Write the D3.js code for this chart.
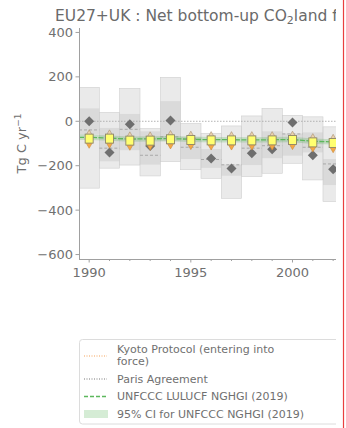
<!DOCTYPE html>
<html><head><meta charset="utf-8">
<script src="https://cdn.jsdelivr.net/npm/d3@7"></script>
<style>body{margin:0;background:#fff}svg{display:block;font-family:"DejaVu Sans",sans-serif}</style>
</head><body>
<script>
const years      = [1990,1991,1992,1993,1994,1995,1996,1997,1998,1999,2000,2001,2002];
const outerMax   = [153, 40, 148, -33, 198, -9, -54, -21, 24, 58, 27, 20, -25];
const outerMin   = [-301,-211,-197,-246,-182,-218,-257,-347,-249,-234,-189,-264,-362];
const innerMax   = [58, -30, 33, -45, 91, -70, -125, -195, -90, -45, -55, -50, -170];
const innerMin   = [-60,-180,-130,-195,-90,-170,-210,-245,-197,-166,-155,-140,-287];
const medianVals = [-39,-121,-36,-153,-70,-117,-172,-196,-121,-110,-57,-117,-192];
const diamondVals= [0,-141,-13,-111,3,-80,-168,-213,-144,-126,-6,-153,-216];
const squareVals = [-78,-78,-87,-87,-81,-84,-86,-86,-86,-86,-84,-95,-98];
const triUpVals  = [-57,-57,-66,-66,-60,-63,-65,-65,-65,-65,-63,-74,-77];
const triDownVals= [-103,-103,-112,-112,-106,-109,-111,-111,-111,-111,-109,-120,-123];
const nghgi      = [-72,-76,-80,-79,-78,-81,-83,-83,-84,-83,-82,-90,-93];
const nghgiCI    = [12,12,12,12,12,12,12,12,12,12,12,12,12];
const yTicks = [400,200,0,-200,-400,-600];
const xTicks = [1990,1995,2000];
const legendItems = [
  {lines:["Kyoto Protocol (entering into","force)"], type:"kyoto"},
  {lines:["Paris Agreement"], type:"paris"},
  {lines:["UNFCCC LULUCF NGHGI (2019)"], type:"nghgi"},
  {lines:["95% CI for UNFCCC NGHGI (2019)"], type:"ci"}
];

const W=346,H=428;
const svg=d3.select("body").append("svg").attr("width",W).attr("height",H);
const L=79,R=336,T=28,B=259;
const x=d3.scaleLinear().domain([1989.5,2002.14]).range([L,R]);
const y=d3.scaleLinear().domain([-620,420]).range([B,T]);
const step=x(1991)-x(1990);

svg.append("defs").append("clipPath").attr("id","plot").append("rect")
  .attr("x",L).attr("y",T).attr("width",R-L).attr("height",B-T);
svg.append("defs").append("clipPath").attr("id","fig").append("rect")
  .attr("x",0).attr("y",0).attr("width",R).attr("height",H);

const g=svg.append("g").attr("clip-path","url(#plot)");
const data=years.map((yr,i)=>({yr,i}));

g.selectAll(".ob").data(data).join("rect")
  .attr("x",d=>x(d.yr-0.5)).attr("width",step)
  .attr("y",d=>y(outerMax[d.i])).attr("height",d=>y(outerMin[d.i])-y(outerMax[d.i]))
  .attr("fill","#d9d9d9").attr("fill-opacity",0.55).attr("stroke","#cfcfcf").attr("stroke-width",0.6);
g.selectAll(".ib").data(data).join("rect")
  .attr("x",d=>x(d.yr-0.5)).attr("width",step)
  .attr("y",d=>y(innerMax[d.i])).attr("height",d=>y(innerMin[d.i])-y(innerMax[d.i]))
  .attr("fill","#c8c8c8").attr("fill-opacity",0.45);
g.selectAll(".md").data(data).join("line")
  .attr("x1",d=>x(d.yr-0.5)).attr("x2",d=>x(d.yr+0.5))
  .attr("y1",d=>y(medianVals[d.i])).attr("y2",d=>y(medianVals[d.i]))
  .attr("stroke","#a8a8a8").attr("stroke-width",1).attr("stroke-dasharray","3,2");

g.append("line").attr("x1",L).attr("x2",R).attr("y1",y(0)).attr("y2",y(0))
  .attr("stroke","#aaa").attr("stroke-width",0.9).attr("stroke-dasharray","1.5,1.5");

const area=d3.area().x(d=>x(d.yr)).y0(d=>y(nghgi[d.i]-nghgiCI[d.i])).y1(d=>y(nghgi[d.i]+nghgiCI[d.i]));
const band=[{yr:1989.5,i:0},...data,{yr:2002.5,i:12}];
g.append("path").datum(band).attr("d",area).attr("fill","#2ca02c").attr("fill-opacity",0.2);
const line=d3.line().x(d=>x(d.yr)).y(d=>y(nghgi[d.i]));
g.append("path").datum(band).attr("d",line).attr("fill","none")
  .attr("stroke","#5cb85c").attr("stroke-width",1.3).attr("stroke-dasharray","5,1.5");

g.selectAll(".dm").data(data).join("path")
  .attr("d",d3.symbol().type(d3.symbolSquare).size(50))
  .attr("transform",d=>`translate(${x(d.yr)},${y(diamondVals[d.i])}) rotate(45)`)
  .attr("fill","#6e6e6e");
g.selectAll(".tu").data(data).join("path")
  .attr("d",d3.symbol().type(d3.symbolTriangle).size(22))
  .attr("transform",d=>`translate(${x(d.yr)},${y(triUpVals[d.i])})`)
  .attr("fill","#ead2ae").attr("stroke","#a88f70").attr("stroke-width",0.6);
g.selectAll(".td").data(data).join("path")
  .attr("d",d3.symbol().type(d3.symbolTriangle).size(22))
  .attr("transform",d=>`translate(${x(d.yr)},${y(triDownVals[d.i])}) rotate(180)`)
  .attr("fill","#f5a845").attr("stroke","#c98a3a").attr("stroke-width",0.6);
g.selectAll(".sq").data(data).join("rect")
  .attr("x",d=>x(d.yr)-4).attr("width",8)
  .attr("y",d=>y(squareVals[d.i])-4.5).attr("height",9)
  .attr("fill","#ffff70").attr("stroke","#8c8468").attr("stroke-width",0.9);

const axc="#a0a0a0", txc="#707070";
svg.append("line").attr("x1",L+0.5).attr("x2",L+0.5).attr("y1",T).attr("y2",B).attr("stroke",axc);
svg.append("line").attr("x1",L).attr("x2",R).attr("y1",B+0.5).attr("y2",B+0.5).attr("stroke",axc);
yTicks.forEach(v=>{
  svg.append("line").attr("x1",L-3.5).attr("x2",L).attr("y1",y(v)).attr("y2",y(v)).attr("stroke",axc);
  svg.append("text").attr("x",L-6).attr("y",y(v)).attr("dy","0.35em").attr("text-anchor","end")
    .attr("font-size",13).attr("fill",txc).text(v<0?"\u2212"+Math.abs(v):v);
});
years.forEach(yr=>{
  const major=xTicks.includes(yr);
  svg.append("line").attr("x1",x(yr)).attr("x2",x(yr)).attr("y1",B).attr("y2",B+(major?3.5:2))
    .attr("stroke",axc);
});
xTicks.forEach(v=>{
  svg.append("text").attr("x",x(v)).attr("y",277).attr("text-anchor","middle")
    .attr("font-size",13).attr("fill",txc).text(v);
});
const yl=svg.append("text").attr("transform",`translate(26,${(T+B)/2}) rotate(-90)`)
  .attr("text-anchor","middle").attr("font-size",13).attr("fill",txc);
yl.append("tspan").text("Tg C yr");
yl.append("tspan").attr("dy",-5).attr("font-size",9).text("\u22121");

const fg=svg.append("g").attr("clip-path","url(#fig)");
const tt=fg.append("text").attr("x",55).attr("y",21).attr("font-size",15.5).attr("fill","#6a6a6a");
tt.append("tspan").text("EU27+UK : Net bottom-up CO");
tt.append("tspan").attr("dy",3).attr("font-size",11).text("2");
tt.append("tspan").attr("dy",-3).text("land flux");

fg.append("rect").attr("x",79.5).attr("y",339.5).attr("width",300).attr("height",84.5).attr("rx",3)
  .attr("fill","#fff").attr("stroke","#dcdcdc");
const rowY=[349,379,396.5,414];
legendItems.forEach((it,k)=>{
  const cy=rowY[k];
  const sy = it.type==="kyoto" ? cy+7 : cy;
  if(it.type==="kyoto") fg.append("line").attr("x1",84).attr("x2",107).attr("y1",sy).attr("y2",sy)
    .attr("stroke","#f5a35a").attr("stroke-width",1).attr("stroke-dasharray","1,1.5");
  if(it.type==="paris") fg.append("line").attr("x1",84).attr("x2",107).attr("y1",sy).attr("y2",sy)
    .attr("stroke","#777").attr("stroke-width",1).attr("stroke-dasharray","1,1.5");
  if(it.type==="nghgi") fg.append("line").attr("x1",84).attr("x2",107).attr("y1",sy).attr("y2",sy)
    .attr("stroke","#5cb85c").attr("stroke-width",1.3).attr("stroke-dasharray","4,2");
  if(it.type==="ci") fg.append("rect").attr("x",84).attr("width",24).attr("y",sy-4).attr("height",8)
    .attr("fill","#2ca02c").attr("fill-opacity",0.2);
  it.lines.forEach((ln,j)=>{
    fg.append("text").attr("x",117).attr("y",cy+j*12.5).attr("dy","0.35em")
      .attr("font-size",11).attr("fill",txc).text(ln);
  });
});

svg.append("line").attr("x1",343.5).attr("x2",343.5).attr("y1",0).attr("y2",H)
  .attr("stroke","#e8403f").attr("stroke-width",1.2);
</script>
</body></html>
